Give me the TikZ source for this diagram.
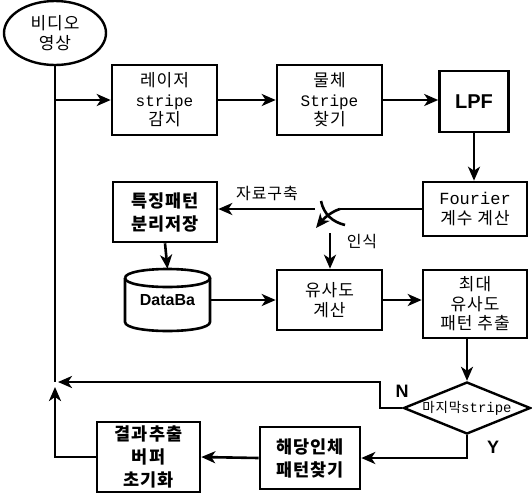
\documentclass[tikz,border=0pt]{standalone}
\usepackage{fontspec}
\setmainfont{Liberation Serif}
\newfontfamily\kr{Noto Sans CJK KR}[LetterSpace=6]
\newfontfamily\mono{Liberation Mono}
\newfontfamily\sansf{Liberation Sans}
\usetikzlibrary{shapes.geometric,arrows.meta}
\tikzset{
  box/.style={draw, line width=2.6pt, rectangle, inner sep=0pt, align=center},
  ln/.style={line width=2.6pt},
  arr/.style={line width=2.6pt, -{Stealth[length=14pt,width=12pt,inset=4pt]}},
  reg/.style={font=\kr\fontsize{17}{19.5}\selectfont},
  bold/.style={font=\kr\bfseries\fontsize{17.5}{23}\selectfont},
  lbl/.style={inner sep=0pt}
}
\begin{document}
\begin{tikzpicture}[x=1pt,y=-1pt]
\useasboundingbox[fill=white] (0,0) rectangle (532,496);
% nodes
\node[ellipse, draw, line width=2.4pt, minimum width=102pt, minimum height=64pt, inner sep=0pt, align=center, reg] (vid) at (55,33) {비디오\\영상};
\node[box, reg, minimum width=105pt, minimum height=70pt] (b1) at (164.5,100) {레이저\\{\mono\fontsize{16}{19.5}\selectfont stripe}\\감지};
\node[box, reg, minimum width=105pt, minimum height=70pt] (b2) at (329.5,100) {물체\\{\mono\fontsize{16}{19.5}\selectfont Stripe}\\찾기};
\node[box, minimum width=69pt, minimum height=61pt, font=\sansf\bfseries\fontsize{20}{22}\selectfont] (lpf) at (474,101.5) {LPF};
\node[box, reg, minimum width=104pt, minimum height=54pt] (four) at (475,209) {{\mono\fontsize{17}{21}\selectfont Fourier}\\계수 계산};
\node[box, bold, minimum width=104pt, minimum height=60pt] (feat) at (165,212) {특징패턴\\분리저장};
\node[inner sep=0pt, minimum width=85pt, minimum height=62pt, font=\sansf\bfseries\fontsize{16}{18}\selectfont] (db) at (167.5,300) {DataBa};
\node[box, reg, minimum width=105pt, minimum height=60pt] (sim) at (329.5,300) {유사도\\계산};
\node[box, reg, minimum width=104pt, minimum height=68pt] (max) at (475,304) {최대\\유사도\\패턴 추출};
\node[diamond, draw, line width=2.4pt, aspect=2.44, minimum width=127pt, minimum height=52pt, inner sep=0pt, font=\kr\fontsize{13.5}{15}\selectfont] (dec) at (467,408) {마지막{\mono\fontsize{14}{15}\selectfont stripe}};
\node[box, bold, minimum width=100pt, minimum height=62pt] (hae) at (310,458) {해당인체\\패턴찾기};
\node[box, bold, minimum width=103pt, minimum height=70pt] (res) at (148.5,457) {결과추출\\버퍼\\초기화};
% cylinder outline
\draw[ln] (125,278) .. controls (125,266) and (210,266) .. (210,278) .. controls (210,290) and (125,290) .. (125,278);
\draw[ln] (125,278) -- (125,322) .. controls (125,334) and (210,334) .. (210,322) -- (210,278);
% labels
\node[lbl, font=\kr\fontsize{16}{18}\selectfont] (lab1) at (267,193) {자료구축};
\node[lbl, font=\kr\fontsize{16}{18}\selectfont] (lab2) at (362,242) {인식};
\node[lbl, font=\sansf\bfseries\fontsize{18}{19}\selectfont] (labN) at (402,391) {N};
\node[lbl, font=\sansf\bfseries\fontsize{18}{19}\selectfont] (labY) at (493,447) {Y};
% coordinates
\coordinate (j1) at (55,100);
\coordinate (mN) at (55,382);
\coordinate (nk) at (380,382);
\coordinate (nt) at (58,382);
\coordinate (up) at (55,387);
\coordinate (sw) at (340,209);
\coordinate (swt) at (316,228);
\coordinate (bl1) at (321,201);
\coordinate (bl2) at (345,225);
\coordinate (swl) at (315,209);
\coordinate (rec) at (330,233);
% connectors
\draw[ln] (vid.south) -- (mN);
\draw[arr] (j1) -- (b1.west);
\draw[arr] (b1.east) -- (b2.west);
\draw[arr] (b2.east) -- (b2.east -| lpf.west);
\draw[arr] (lpf.south) -- (lpf.south |- four.north);
\draw[ln] (four.west) -- (sw);
\draw[arr] (sw) .. controls (333,211) and (325,217) .. (swt);
\draw[ln] (bl1) .. controls (324,215) and (333,222) .. (bl2);
\draw[arr] (swl) -- (swl -| feat.east);
\draw[arr] (rec) -- (rec |- sim.north);
\draw[arr] (feat.south) -- (db.north);
\draw[arr] (db.east) -- (db.east -| sim.west);
\draw[arr] (sim.east) -- (sim.east -| max.west);
\draw[arr] (dec.north |- max.south) -- (dec.north);
\draw[arr] (dec.west) -| (nk) -- (nt);
\draw[arr] (dec.south) |- (hae.east);
\draw[arr] (hae.west) -- (res.east);
\draw[arr] (res.west) -| (up);
\end{tikzpicture}
\end{document}
